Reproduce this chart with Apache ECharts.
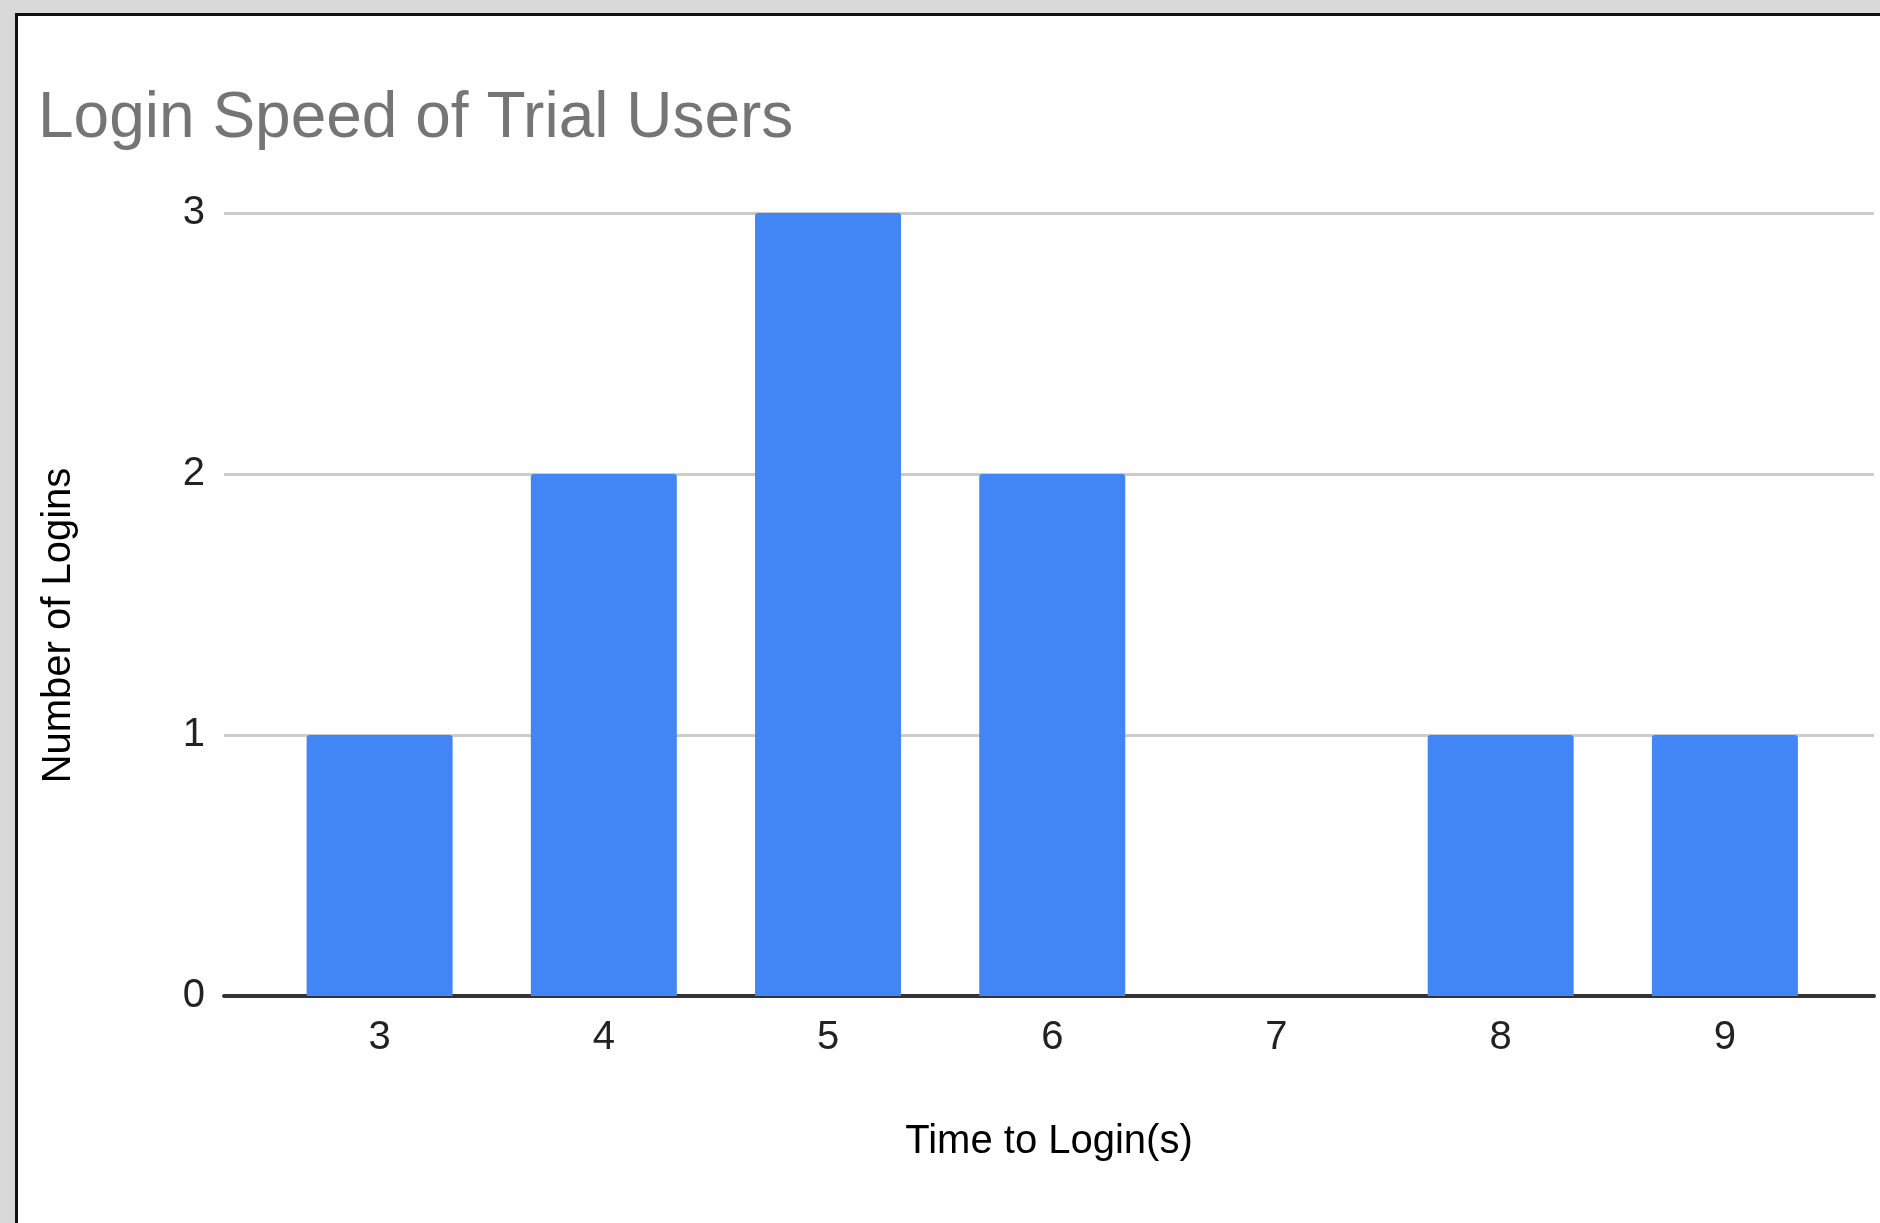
<!DOCTYPE html>
<html>
<head>
<meta charset="utf-8">
<script src="https://cdn.jsdelivr.net/npm/echarts@6/dist/echarts.min.js"></script>
<style>
  html, body { margin: 0; padding: 0; width: 1880px; height: 1223px; background: #d9d9d9; overflow: hidden; }
  #frame { position: absolute; left: 15px; top: 13px; right: 0; bottom: 0; background: #ffffff;
           border-left: 3px solid #111; border-top: 3px solid #111; }
  #chart { position: absolute; left: 0; top: 0; width: 1880px; height: 1223px; }
</style>
</head>
<body>
<div id="frame"></div>
<div id="chart"></div>
<script>
const titleText = 'Login Speed of Trial Users';
const xAxisName = 'Time to Login(s)';
const yAxisName = 'Number of Logins';
const categories = [3, 4, 5, 6, 7, 8, 9];
const counts = [1, 2, 3, 2, 0, 1, 1];
const yTicks = [0, 1, 2, 3];

const FONT = 'Arial, "Liberation Sans", sans-serif';
const chart = echarts.init(document.getElementById('chart'), null, { renderer: 'canvas' });
chart.setOption({
  backgroundColor: 'transparent',
  animation: false,
  title: {
    text: titleText,
    left: 33,
    top: 82,
    textStyle: { fontFamily: FONT, fontSize: 64, fontWeight: 'normal', color: '#757575' }
  },
  grid: { left: 224, right: 6, top: 213, bottom: 227, containLabel: false },
  xAxis: {
    type: 'value',
    min: 2.306,
    max: 9.665,
    name: xAxisName,
    nameLocation: 'middle',
    nameGap: 126,
    nameTextStyle: { fontFamily: FONT, fontSize: 40, color: '#000' },
    axisLine: { show: true, onZero: false, lineStyle: { color: '#333', width: 4 } },
    axisTick: { show: false },
    splitLine: { show: false },
    axisLabel: {
      customValues: categories,
      margin: 22,
      fontFamily: FONT, fontSize: 40, color: '#222'
    }
  },
  yAxis: {
    type: 'value',
    min: yTicks[0],
    max: yTicks[yTicks.length - 1],
    interval: 1,
    name: yAxisName,
    nameLocation: 'middle',
    nameRotate: 90,
    nameGap: 145,
    nameTextStyle: { fontFamily: FONT, fontSize: 40, color: '#000', padding: [0, 42, 0, 0] },
    axisLine: { show: false },
    axisTick: { show: false },
    splitLine: { show: true, lineStyle: { color: '#cccccc', width: 3 } },
    axisLabel: { margin: 19, fontFamily: FONT, fontSize: 40, color: '#222' }
  },
  series: [{
    type: 'bar',
    data: categories.map((c, i) => [c, counts[i]]),
    barWidth: 146,
    itemStyle: { color: '#4285f4', borderRadius: [3, 3, 0, 0] },
    z: 1
  }]
});
</script>
</body>
</html>
